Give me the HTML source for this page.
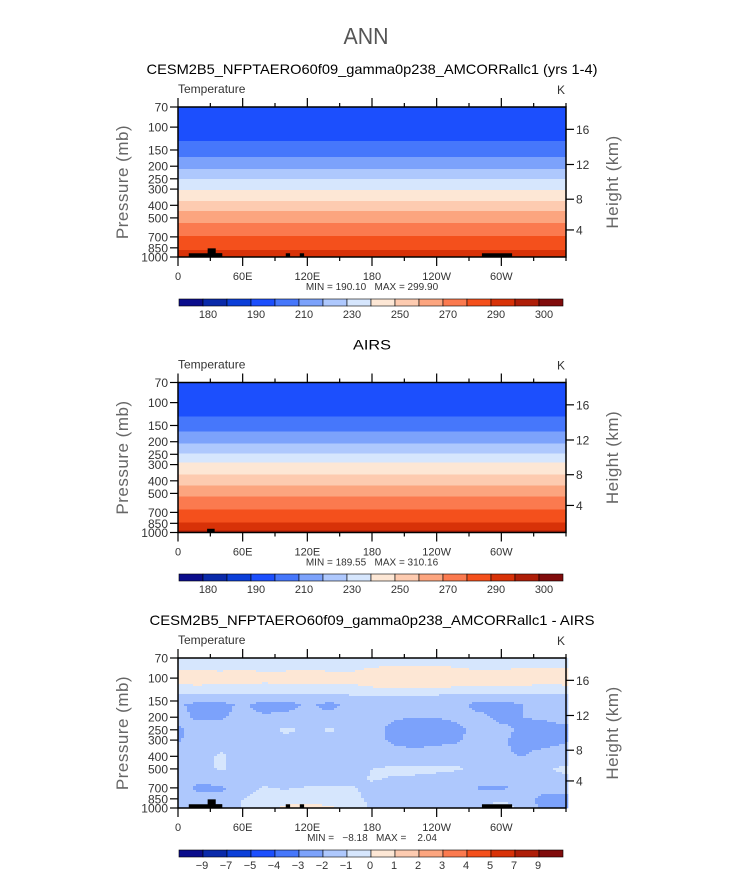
<!DOCTYPE html>
<html><head><meta charset="utf-8"><style>
html,body{margin:0;padding:0;background:#fff;}
svg{display:block;font-family:"Liberation Sans",sans-serif;}
.pre{white-space:pre;}
</style></head><body>
<svg id="chart" width="733" height="873" viewBox="0 0 733 873" xmlns="http://www.w3.org/2000/svg">
<text x="366" y="44" text-anchor="middle" font-size="23" fill="#555" textLength="45" lengthAdjust="spacingAndGlyphs">ANN</text>
</svg>
<script>
// ---- data ----
const lonTicks = [0, 60, 120, 180, 240, 300];
const lonTickLabels = ["0", "60E", "120E", "180", "120W", "60W"];
const presTicks = [70, 100, 150, 200, 250, 300, 400, 500, 700, 850, 1000];
const kmTickLabels = ["16", "12", "8", "4"];
const kmTickPres = [104, 194, 359, 619];
const palette = ["#0b0d8c","#0a2aaa","#0c3fd8","#1c4ffd","#4677fb","#7ca2fb","#aec8fd","#d6e6fd","#fde7d5","#fdcbb0","#fca57f","#fb7a4f","#f4501c","#d83208","#ae1e08","#800c0c"];
const tempLevels = [180,185,190,200,210,220,230,240,250,260,270,280,290,295,300];
const tempLevelLabels = ["180","","190","","210","","230","","250","","270","","290","","300"];
const diffLevels = [-9,-7,-5,-4,-3,-2,-1,0,1,2,3,4,5,7,9];
const diffLevelLabels = ["−9","−7","−5","−4","−3","−2","−1","0","1","2","3","4","5","7","9"];
// panel 1 (model) zonal temperature profile
const modelPres = [70,100,129,171,211,249,304,368,442,544,691,882,1000];
const modelTemp = [195,197,200,210,220,230,240,250,260,270,280,290,294];
// panel 2 (AIRS)
const airsPres = [70,100,127,168,206,246,290,355,432,531,666,842,961,1000];
const airsTemp = [195,197,200,210,220,230,240,250,260,270,280,290,295,297];
// panel 3 difference grid (rows = pressure, cols = lon 0..360 step 20)
const diffLons = [0,20,40,60,80,100,120,140,160,180,200,220,240,260,280,300,320,340,360];
const diffPres = [70,85,100,115,135,160,200,250,300,400,500,600,700,850,1000];
const diffRow70   = [-0.6,-0.6,-0.6,-0.6,-0.6,-0.6,-0.6,-0.6,-0.6,-0.6,-0.6,-0.6,-0.6,-0.6,-0.6,-0.6,-0.6,-0.6,-0.6];
const diffRow85   = [-0.2,-0.1,-0.2,-0.1,-0.3,-0.2,-0.1,-0.2,-0.2,0.1,0.2,0.2,0.2,0.1,-0.1,-0.1,0.1,0.1,0.0];
const diffRow100  = [0.7,0.9,0.6,1.05,0.6,0.7,0.9,0.6,0.5,0.7,0.9,1.05,1.1,0.95,0.7,1.05,0.6,0.6,0.9];
const diffRow115  = [-0.2,-0.1,-0.3,-0.2,-0.4,-0.3,-0.2,-0.3,-0.2,0.1,0.2,0.3,0.2,0.1,-0.1,-0.1,0.0,-0.2,-0.1];
const diffRow135  = [-1.1,-1.1,-1.1,-1.1,-1.1,-1.1,-1.1,-1.1,-1.0,-0.9,-0.9,-1.0,-1.0,-1.1,-1.1,-1.1,-1.1,-1.1,-1.1];
const diffRow160  = [-1.8,-2.4,-2.3,-1.8,-2.5,-2.4,-1.8,-2.3,-1.7,-1.6,-1.7,-1.7,-1.7,-1.7,-2.4,-2.4,-2.0,-1.9,-1.8];
const diffRow200  = [-1.7,-2.2,-2.1,-1.7,-1.8,-1.7,-1.6,-1.7,-1.6,-1.6,-1.9,-2.0,-2.0,-1.8,-1.7,-2.3,-2.0,-1.9,-1.7];
const diffRow250  = [-2.2,-1.4,-1.6,-1.6,-1.3,-0.8,-1.2,-0.9,-1.1,-1.6,-2.3,-2.5,-2.4,-2.2,-1.6,-1.7,-2.2,-2.3,-2.2];
const diffRow300  = [-2.1,-1.6,-1.7,-1.7,-1.6,-1.2,-1.6,-1.4,-1.6,-1.6,-2.2,-2.3,-2.2,-2.1,-1.6,-1.8,-2.4,-2.4,-2.1];
const diffRow400  = [-1.6,-1.4,-0.8,-1.5,-1.6,-1.7,-1.6,-1.6,-1.5,-1.6,-1.6,-1.7,-1.6,-1.5,-1.6,-1.9,-2.0,-1.6,-1.5];
const diffRow500  = [-1.1,-1.3,-0.9,-1.5,-1.6,-1.7,-1.6,-1.6,-1.4,-1.0,-0.8,-0.7,-0.8,-0.9,-1.5,-1.6,-1.5,-1.1,-0.8];
const diffRow600  = [-1.5,-1.6,-1.4,-1.6,-1.6,-1.7,-1.6,-1.6,-1.3,-0.9,-1.1,-1.2,-1.3,-1.5,-1.6,-1.6,-1.5,-1.3,-1.2];
const diffRow700  = [-1.6,-2.3,-2.2,-1.3,-0.9,-1.1,-0.9,-0.8,-0.9,-1.3,-1.6,-1.6,-1.5,-1.6,-2.1,-2.2,-1.6,-1.6,-1.5];
const diffRow850  = [-1.4,-1.6,-1.7,-1.0,-0.8,-0.5,-0.4,-0.6,-0.7,-1.2,-1.6,-1.5,-1.6,-1.6,-1.5,-1.2,-1.6,-2.3,-2.4];
const diffRow1000 = [-1.3,-1.2,-1.5,-0.9,-0.6,0.3,0.4,0.2,-0.5,-1.1,-1.6,-1.5,-1.6,-1.5,-1.3,-0.3,-1.4,-2.3,-2.2];
const diffGrid = [diffRow70,diffRow85,diffRow100,diffRow115,diffRow135,diffRow160,diffRow200,diffRow250,diffRow300,diffRow400,diffRow500,diffRow600,diffRow700,diffRow850,diffRow1000];
// terrain blocks: lon start, lon end, top pressure
const terrainLon0 = [10, 27.5, 35, 100, 113, 282];
const terrainLon1 = [41, 35, 41, 104, 117, 310];
const terrainTop  = [936, 858, 936, 936, 936, 936];
const airsTerrainLon0 = [27];
const airsTerrainLon1 = [34];
const airsTerrainTop = [936];

// ---- drawing ----
const NS = "http://www.w3.org/2000/svg";
const svg = document.getElementById("chart");
const X0 = 178, X1 = 566, PH = 150;
function el(tag, attrs, parent) {
  const e = document.createElementNS(NS, tag);
  for (const k in attrs) e.setAttribute(k, attrs[k]);
  (parent || svg).appendChild(e);
  return e;
}
function xOf(lon) { return X0 + lon / 360 * (X1 - X0); }
function yOf(top, p) { return top + Math.log(p / 70) / Math.log(1000 / 70) * PH; }
function pOf(top, y) { return 70 * Math.exp((y - top) / PH * Math.log(1000 / 70)); }
function interpProfile(P, T, p) {
  const lp = Math.log(p);
  for (let i = 0; i < P.length - 1; i++) {
    const a = Math.log(P[i]), b = Math.log(P[i + 1]);
    if (lp >= a && lp <= b) return T[i] + (T[i + 1] - T[i]) * (lp - a) / (b - a);
  }
  return lp < Math.log(P[0]) ? T[0] : T[T.length - 1];
}
function colorFor(levels, v) {
  let i = 0;
  while (i < levels.length && v >= levels[i]) i++;
  return palette[i];
}
function gridVal(lon, p) {
  let j = Math.min(diffLons.length - 2, Math.floor(lon / 20));
  const fx = (lon - diffLons[j]) / 20;
  const lp = Math.log(p);
  let i = 0;
  while (i < diffPres.length - 2 && lp > Math.log(diffPres[i + 1])) i++;
  const a = Math.log(diffPres[i]), b = Math.log(diffPres[i + 1]);
  const fy = Math.max(0, Math.min(1, (lp - a) / (b - a)));
  const r0 = diffGrid[i], r1 = diffGrid[i + 1];
  const v0 = r0[j] + (r0[j + 1] - r0[j]) * fx;
  const v1 = r1[j] + (r1[j + 1] - r1[j]) * fx;
  return v0 + (v1 - v0) * fy;
}

function drawPanel(top, title, titleW, kind, cbY) {
  const g = el("g", {});
  
  
  const t = el("text", {x: 372, y: top - 33, "text-anchor": "middle", "font-size": 14, fill: "#000", textLength: titleW, lengthAdjust: "spacingAndGlyphs"}, g);
  t.textContent = title;
  
  
  const lt = el("text", {x: 178, y: top - 14, "font-size": 12, fill: "#333"}, g);
  lt.textContent = "Temperature";
  
  
  const kt = el("text", {x: 557, y: top - 13, "font-size": 12, fill: "#333"}, g);
  kt.textContent = "K";
  
  

  const field = el("g", {}, g);
  
  
  if (kind === "model" || kind === "airs") {
    const P = kind === "model" ? modelPres : airsPres;
    const T = kind === "model" ? modelTemp : airsTemp;
    for (let r = 0; r < PH; r++) {
      const v = interpProfile(P, T, pOf(top, top + r + 0.5));
      const rc = el("rect", {x: X0, y: top + r, width: X1 - X0, height: 1.05, fill: colorFor(tempLevels, v)}, field);
      
      
    }
  } else {
    const cw = 3, ch = 2;
    for (let yy = 0; yy < PH; yy += ch) {
      const p = pOf(top, top + yy + ch / 2);
      for (let xx = 0; xx < X1 - X0; xx += cw) {
        const lon = (xx + cw / 2) / (X1 - X0) * 360;
        const v = gridVal(Math.min(359.9, lon), p);
        const rc = el("rect", {x: X0 + xx, y: top + yy, width: cw + 0.3, height: ch + 0.3, fill: colorFor(diffLevels, v)}, field);
        
        
      }
    }
  }
  const L0 = kind === "airs" ? airsTerrainLon0 : terrainLon0;
  const L1 = kind === "airs" ? airsTerrainLon1 : terrainLon1;
  const TP = kind === "airs" ? airsTerrainTop : terrainTop;
  for (let i = 0; i < L0.length; i++) {
    const y = yOf(top, TP[i]);
    const rc = el("rect", {x: xOf(L0[i]), y: y, width: xOf(L1[i]) - xOf(L0[i]), height: top + PH - y, fill: "#000"}, g);
    
    
  }
  const fr = el("rect", {x: X0, y: top, width: X1 - X0, height: PH, fill: "none", stroke: "#000", "stroke-width": 1.5}, g);
  
  
  for (let lon = 0; lon <= 360; lon += 30) {
    const x = xOf(lon), major = lon % 60 === 0 && lon < 360;
    const len = major ? 9 : 4;
    el("line", {x1: x, x2: x, y1: top, y2: top - len, stroke: "#000", "stroke-width": 1.2}, g);
    el("line", {x1: x, x2: x, y1: top + PH, y2: top + PH + len, stroke: "#000", "stroke-width": 1.2}, g);
  }
  lonTicks.forEach((lon, i) => {
    const tx = el("text", {x: xOf(lon), y: top + PH + 23, "text-anchor": "middle", "font-size": 11, fill: "#333"}, g);
    tx.textContent = lonTickLabels[i];
    
    
  });
  presTicks.forEach(p => {
    const y = yOf(top, p);
    el("line", {x1: X0, x2: X0 - 8, y1: y, y2: y, stroke: "#000", "stroke-width": 1.2}, g);
    const tx = el("text", {x: X0 - 10, y: y + 4.5, "text-anchor": "end", "font-size": 12, fill: "#333"}, g);
    tx.textContent = String(p);
    
    
  });
  kmTickPres.forEach((p, i) => {
    const y = yOf(top, p);
    el("line", {x1: X1, x2: X1 + 8, y1: y, y2: y, stroke: "#000", "stroke-width": 1.2}, g);
    const tx = el("text", {x: X1 + 10, y: y + 4.5, "font-size": 12, fill: "#333"}, g);
    tx.textContent = kmTickLabels[i];
    
    
  });
  const yc = top + PH / 2;
  const ya = el("text", {x: 0, y: 0, transform: `translate(128 ${yc}) rotate(-90)`, "text-anchor": "middle", "font-size": 17, fill: "#666", "letter-spacing": "0.5"}, g);
  ya.textContent = "Pressure (mb)";
  
  
  const yb = el("text", {x: 0, y: 0, transform: `translate(618 ${yc}) rotate(-90)`, "text-anchor": "middle", "font-size": 17, fill: "#666", "letter-spacing": "0.5"}, g);
  yb.textContent = "Height (km)";
  
  
  const mm = el("text", {x: 372, y: top + PH + 33, "text-anchor": "middle", "font-size": 10, fill: "#333", "class": "pre"}, g);
  mm.textContent = kind === "model" ? "MIN = 190.10   MAX = 299.90" : kind === "airs" ? "MIN = 189.55   MAX = 310.16" : "MIN =   −8.18   MAX =    2.04";
  
  
  const cb = el("g", {}, g);
  
  
  const cx0 = 179, cw = 24;
  palette.forEach((c, i) => {
    const r = el("rect", {x: cx0 + i * cw, y: cbY, width: cw, height: 7, fill: c, stroke: "#000", "stroke-width": 0.6}, cb);
    
    
  });
  const labels = kind === "diff" ? diffLevelLabels : tempLevelLabels;
  const off = kind === "diff" ? -1 : 5;
  labels.forEach((lab, i) => {
    if (!lab) return;
    const tx = el("text", {x: cx0 + (i + 1) * cw + off, y: cbY + 19, "text-anchor": "middle", "font-size": 11, fill: "#333"}, cb);
    tx.textContent = lab;
    
    
  });
}
drawPanel(107, "CESM2B5_NFPTAERO60f09_gamma0p238_AMCORRallc1 (yrs 1-4)", 451, "model", 299);
drawPanel(382.5, "AIRS", 38, "airs", 574);
drawPanel(658, "CESM2B5_NFPTAERO60f09_gamma0p238_AMCORRallc1 - AIRS", 445, "diff", 850);
</script>
</body></html>
